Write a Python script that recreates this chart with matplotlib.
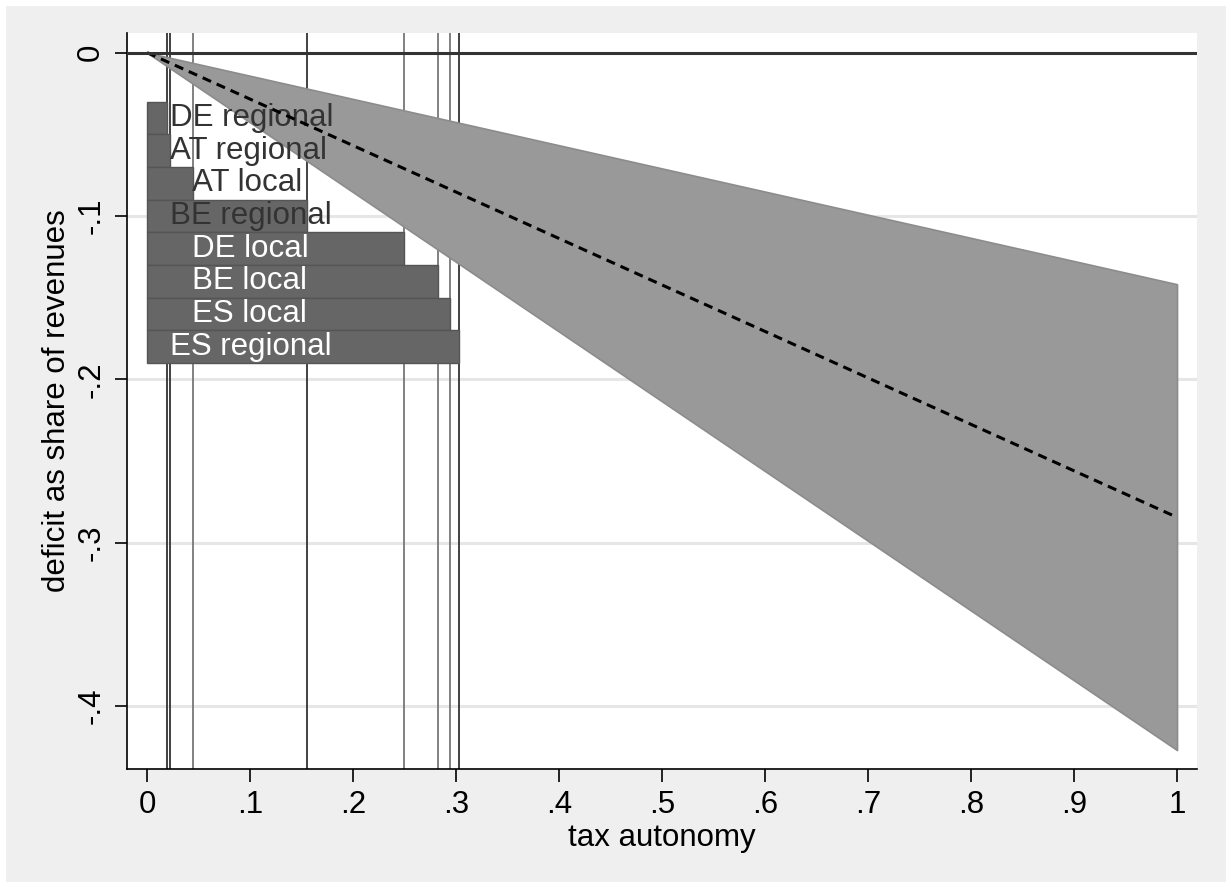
import numpy as np
import matplotlib.pyplot as plt
from matplotlib.patches import Rectangle

plt.rcParams['font.family'] = ['Liberation Sans', 'DejaVu Sans']

# bar data: tax autonomy of each government level
labels = ['DE regional', 'AT regional', 'AT local', 'BE regional',
          'DE local', 'BE local', 'ES local', 'ES regional']
autonomy = [0.0194, 0.022, 0.0443, 0.155, 0.2498, 0.2825, 0.2945, 0.3032]
bar_y = [-0.04, -0.06, -0.08, -0.10, -0.12, -0.14, -0.16, -0.18]
is_regional = [True, True, False, True, False, False, False, True]
label_x = [0.022, 0.022, 0.044, 0.022, 0.044, 0.044, 0.044, 0.022]
label_color = ['#333333', '#333333', '#333333', '#333333',
               'white', 'white', 'white', 'white']

# predicted effect with confidence band
line_x = [0.0, 1.0]
fit_y = [0.0, -0.2845]
upper_y = [0.0, -0.1418]
lower_y = [0.0, -0.427]

fig = plt.figure(figsize=(12.26, 8.82), dpi=100)
fig.patch.set_facecolor('white')
fig.patches.append(Rectangle((6 / 1226, 0), 1, 1 - 6 / 882, transform=fig.transFigure,
                             facecolor='#efefef', edgecolor='none', zorder=-10))

ax = fig.add_axes([127 / 1226, 1 - 769 / 882, (1197 - 127) / 1226, (769 - 33) / 882])
ax.set_facecolor('white')

# grid lines
for g in [-0.1, -0.2, -0.3, -0.4]:
    ax.axhline(g, color='#e6e6e6', lw=2.2, zorder=0)

# vertical reference lines at each autonomy value
for v, reg in zip(autonomy, is_regional):
    ax.axvline(v, color='#333333' if reg else '#777777', lw=1.3, zorder=1)

ax.fill_between(line_x, upper_y, lower_y, facecolor='#999999', edgecolor='#8c8c8c',
                lw=1.2, zorder=2)

ax.barh(bar_y, autonomy, height=0.02, left=0, color='#666666', edgecolor='#555555',
        lw=1.0, zorder=3)

for lab, lx, yy, c in zip(labels, label_x, bar_y, label_color):
    ax.text(lx, yy, lab, color=c, fontsize=22.5, ha='left', va='center', zorder=4)

ax.plot(line_x, fit_y, color='black', lw=2.2, ls=(0, (3, 2)), zorder=5)
ax.axhline(0, color='#333333', lw=2.2, zorder=5)

ax.set_xlim(-0.0194, 1.0194)
ax.set_ylim(-0.4386, 0.012)

xt = np.arange(0, 1.01, 0.1)
ax.set_xticks(xt)
ax.set_xticklabels(['0', '.1', '.2', '.3', '.4', '.5', '.6', '.7', '.8', '.9', '1'])
ax.set_yticks([0, -0.1, -0.2, -0.3, -0.4])
ax.set_yticklabels(['0', '-.1', '-.2', '-.3', '-.4'], rotation=90, va='center')
ax.tick_params(axis='both', length=9, width=1.2, labelsize=22.5, pad=6, color='black')

for side in ['top', 'right']:
    ax.spines[side].set_visible(False)
for side in ['left', 'bottom']:
    ax.spines[side].set_linewidth(1.2)

ax.set_xlabel('tax autonomy', fontsize=22.5, labelpad=2)
ax.set_ylabel('deficit as share of revenues', fontsize=22.5, labelpad=3)

fig.savefig('out.png', dpi=100, facecolor=fig.get_facecolor())
